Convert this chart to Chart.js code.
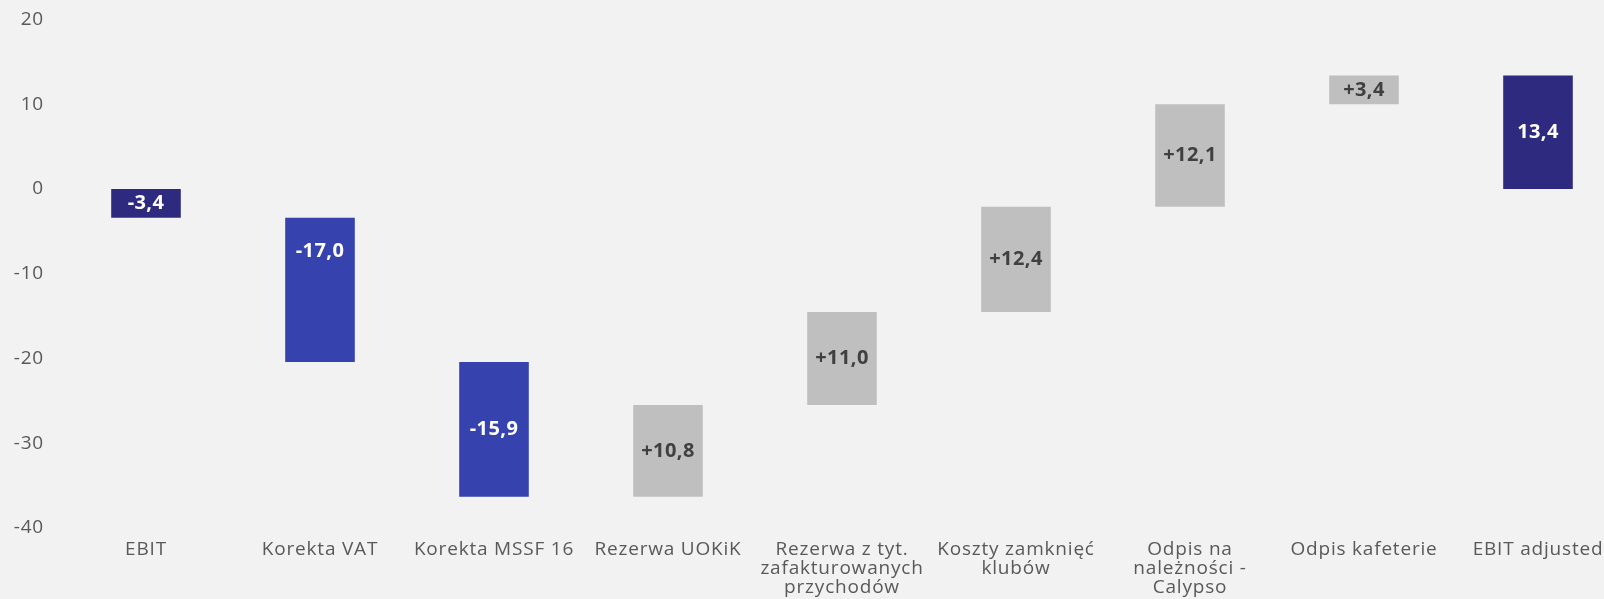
<!DOCTYPE html>
<html>
<head>
<meta charset="utf-8">
<script src="https://cdn.jsdelivr.net/npm/chart.js@4/dist/chart.umd.min.js"></script>
<style>
  html, body { margin: 0; padding: 0; background: #f2f2f2; overflow: hidden; }
  #wrap { position: relative; width: 1625px; height: 599px; }
</style>
</head>
<body>
<div id="wrap"><canvas id="js-canvas-bridge"></canvas></div>
<script>
// EBIT bridge, mln zł
const categories = [
  'EBIT',
  'Korekta VAT',
  'Korekta MSSF 16',
  'Rezerwa UOKiK',
  ['Rezerwa z tyt.', 'zafakturowanych', 'przychodów'],
  ['Koszty zamknięć', 'klubów'],
  ['Odpis na', 'należności -', 'Calypso'],
  'Odpis kafeterie',
  'EBIT adjusted'
];
// change per step; totals are drawn from zero
const changes = [-3.4, -17.0, -15.9, 10.8, 11.0, 12.4, 12.1, 3.4, 13.4];
const kinds = ['total', 'adj', 'adj', 'up', 'up', 'up', 'up', 'up', 'total'];
const yTicks = [-40, -30, -20, -10, 0, 10, 20];

const colors = { total: '#2e2a80', adj: '#3642ad', up: '#bfbfbf' };
const textColors = { total: '#ffffff', adj: '#ffffff', up: '#404040' };
const FONT = "'Open Sans'";

// floating bars: [start, end]
let running = 0;
const ranges = changes.map((c, i) => {
  if (kinds[i] === 'total') {
    running = c;
    return [0, c];
  }
  const from = running;
  running = +(running + c).toFixed(1);
  return [from, running];
});

const fmt = (v, kind) => {
  const s = Math.abs(v).toFixed(1).replace('.', ',');
  if (v < 0) return '-' + s;
  return kind === 'up' ? '+' + s : s;
};

// a little tracking for axis text, set before measuring and drawing
const spacing = {
  id: 'spacing',
  beforeLayout(chart) { chart.ctx.letterSpacing = '0.8px'; },
  beforeDraw(chart) { chart.ctx.letterSpacing = '0.8px'; }
};

// value labels inside each bar
const barLabels = {
  id: 'barLabels',
  afterDatasetsDraw(chart, args, opts) {
    const { ctx } = chart;
    const meta = chart.getDatasetMeta(0);
    const y = chart.scales.y;
    ctx.save();
    ctx.letterSpacing = '0.4px';
    ctx.font = 'bold 20px ' + FONT;
    ctx.textAlign = 'center';
    ctx.textBaseline = 'middle';
    meta.data.forEach((bar, i) => {
      const yy = opts.anchor[i] !== undefined
        ? y.getPixelForValue(opts.anchor[i])
        : (bar.y + bar.base) / 2;
      ctx.fillStyle = textColors[kinds[i]];
      ctx.fillText(fmt(changes[i], kinds[i]), bar.x, yy);
    });
    ctx.restore();
  }
};

const ctx = document.getElementById('js-canvas-bridge');
new Chart(ctx, {
  type: 'bar',
  data: {
    labels: categories,
    datasets: [{
      data: ranges,
      backgroundColor: kinds.map(k => colors[k]),
      borderWidth: 0,
      borderSkipped: false,
      barPercentage: 0.4,
      categoryPercentage: 1
    }]
  },
  options: {
    responsive: true,
    maintainAspectRatio: false,
    animation: false,
    layout: { padding: { top: 19.5, left: 0, right: 0, bottom: 0 } },
    plugins: {
      legend: { display: false },
      tooltip: { enabled: false },
      barLabels: { anchor: { 1: -7.3 } }
    },
    scales: {
      x: {
        grid: { display: false, drawTicks: false },
        border: { display: false },
        ticks: {
          color: '#595959',
          font: { family: FONT, size: 19, lineHeight: '19px' },
          padding: 12,
          maxRotation: 0,
          autoSkip: false
        },
        afterFit(scale) { scale.height = 71; }
      },
      y: {
        min: -40,
        max: 20,
        afterBuildTicks(scale) { scale.ticks = yTicks.map(v => ({ value: v })); },
        grid: { display: false, drawTicks: false },
        border: { display: false },
        ticks: {
          color: '#595959',
          font: { family: FONT, size: 19 },
          padding: 15
        },
        afterFit(scale) {
          scale.width = 59;
          scale.paddingTop = 0;
          scale.paddingBottom = 0;
        }
      }
    }
  },
  plugins: [spacing, barLabels]
});
</script>
</body>
</html>
